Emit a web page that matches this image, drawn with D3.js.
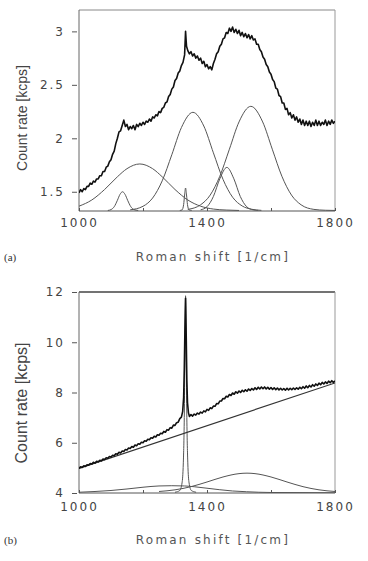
<!DOCTYPE html>
<html>
<head>
<meta charset="utf-8">
<script src="https://cdn.jsdelivr.net/npm/d3@7"></script>
<style>
  body { margin: 0; background: #fff; }
  svg { display: block; }
  .tick text { font-family: "DejaVu Sans", sans-serif; font-size: 12px; fill: #444; letter-spacing: 2px; }
</style>
</head>
<body>
<svg id="fig" width="368" height="561"></svg>
<script>
// ---- data ----
// panel (a): measured spectrum [Raman shift, kcps]
var specA = [[1000,1.49],[1005,1.52],[1010,1.50],[1015,1.53],[1020,1.52],[1025,1.55],[1030,1.55],[1035,1.58],[1040,1.57],[1045,1.60],[1050,1.59],[1055,1.62],[1060,1.62],[1065,1.65],[1070,1.65],[1075,1.69],[1080,1.69],[1085,1.73],[1090,1.74],[1095,1.78],[1100,1.80],[1105,1.85],[1110,1.88],[1115,1.95],[1120,2.00],[1125,2.06],[1130,2.07],[1135,2.12],[1140,2.17],[1145,2.11],[1150,2.13],[1155,2.08],[1160,2.11],[1165,2.09],[1170,2.12],[1175,2.08],[1180,2.13],[1185,2.11],[1190,2.14],[1195,2.12],[1200,2.15],[1205,2.13],[1210,2.16],[1215,2.15],[1220,2.18],[1225,2.16],[1230,2.20],[1235,2.19],[1240,2.22],[1245,2.21],[1250,2.25],[1255,2.24],[1260,2.28],[1265,2.29],[1270,2.33],[1275,2.34],[1280,2.39],[1285,2.41],[1290,2.46],[1295,2.48],[1300,2.54],[1305,2.56],[1310,2.61],[1315,2.63],[1320,2.68],[1325,2.71],[1330,2.78],[1333,3.00],[1336,2.86],[1340,2.82],[1345,2.79],[1350,2.81],[1355,2.77],[1360,2.79],[1365,2.75],[1370,2.77],[1375,2.73],[1380,2.75],[1385,2.70],[1390,2.72],[1395,2.67],[1400,2.69],[1405,2.65],[1410,2.67],[1415,2.64],[1420,2.70],[1425,2.74],[1430,2.79],[1435,2.81],[1440,2.86],[1445,2.88],[1450,2.93],[1455,2.94],[1460,2.99],[1465,2.98],[1470,3.03],[1475,3.00],[1480,3.04],[1485,2.99],[1490,3.02],[1495,2.98],[1500,3.01],[1505,2.96],[1510,2.99],[1515,2.95],[1520,2.98],[1525,2.94],[1530,2.97],[1535,2.93],[1540,2.96],[1545,2.92],[1550,2.93],[1555,2.88],[1560,2.88],[1565,2.83],[1570,2.81],[1575,2.76],[1580,2.74],[1585,2.69],[1590,2.67],[1595,2.62],[1600,2.60],[1605,2.55],[1610,2.53],[1615,2.47],[1620,2.46],[1625,2.40],[1630,2.39],[1635,2.33],[1640,2.33],[1645,2.27],[1650,2.28],[1655,2.22],[1660,2.24],[1665,2.19],[1670,2.22],[1675,2.17],[1680,2.20],[1685,2.15],[1690,2.18],[1695,2.13],[1700,2.17],[1705,2.12],[1710,2.16],[1715,2.12],[1720,2.16],[1725,2.11],[1730,2.15],[1735,2.12],[1740,2.17],[1745,2.12],[1750,2.16],[1755,2.12],[1760,2.15],[1765,2.13],[1770,2.17],[1775,2.12],[1780,2.16],[1785,2.13],[1790,2.17],[1795,2.14],[1800,2.16]];

// panel (a): fitted bands
var bandA1 = [[1000,1.365],[1040,1.423],[1080,1.521],[1120,1.640],[1150,1.716],[1190,1.76],[1230,1.716],[1260,1.640],[1300,1.521],[1340,1.423],[1380,1.365],[1420,1.338],[1460,1.329],[1500,1.325]];
var bandA2 = [[1090,1.325],[1100,1.333],[1110,1.36],[1120,1.42],[1128,1.475],[1136,1.50],[1144,1.475],[1152,1.42],[1162,1.36],[1172,1.333],[1185,1.325]];
var bandA3 = [[1315,1.325],[1322,1.33],[1327,1.38],[1330,1.47],[1333,1.535],[1336,1.47],[1339,1.38],[1344,1.33],[1352,1.325]];
var bandA4 = [[1160,1.331],[1200,1.364],[1230,1.441],[1260,1.602],[1290,1.846],[1320,2.100],[1356,2.243],[1390,2.115],[1420,1.864],[1450,1.616],[1480,1.449],[1510,1.367],[1540,1.336],[1570,1.326]];
var bandA5 = [[1380,1.331],[1400,1.360],[1420,1.456],[1440,1.621],[1462,1.728],[1484,1.621],[1504,1.456],[1524,1.360],[1544,1.331],[1560,1.326]];
var bandA6 = [[1340,1.335],[1380,1.378],[1410,1.469],[1440,1.645],[1470,1.898],[1500,2.153],[1537,2.299],[1574,2.153],[1604,1.898],[1634,1.645],[1664,1.469],[1694,1.378],[1734,1.335],[1770,1.327],[1800,1.325]];

// panel (b): measured spectrum
var specB = [[1000,4.98],[1005,5.04],[1010,5.02],[1015,5.08],[1020,5.06],[1025,5.12],[1030,5.11],[1035,5.17],[1040,5.15],[1045,5.22],[1050,5.19],[1055,5.26],[1060,5.24],[1065,5.30],[1070,5.28],[1075,5.35],[1080,5.33],[1085,5.40],[1090,5.38],[1095,5.45],[1100,5.43],[1105,5.50],[1110,5.48],[1115,5.56],[1120,5.54],[1125,5.62],[1130,5.59],[1135,5.67],[1140,5.65],[1145,5.73],[1150,5.71],[1155,5.79],[1160,5.77],[1165,5.85],[1170,5.82],[1175,5.91],[1180,5.88],[1185,5.96],[1190,5.94],[1195,6.02],[1200,6.00],[1205,6.08],[1210,6.06],[1215,6.14],[1220,6.12],[1225,6.20],[1230,6.18],[1235,6.26],[1240,6.23],[1245,6.32],[1250,6.30],[1255,6.38],[1260,6.36],[1265,6.45],[1270,6.42],[1275,6.52],[1280,6.50],[1285,6.60],[1290,6.58],[1295,6.70],[1300,6.69],[1305,6.80],[1310,6.82],[1315,6.96],[1320,7.02],[1324,7.25],[1327,7.8],[1329,8.9],[1331,10.5],[1333,11.75],[1335,10.3],[1337,8.5],[1339,7.6],[1342,7.2],[1345,7.05],[1350,7.12],[1355,7.06],[1360,7.14],[1365,7.10],[1370,7.18],[1375,7.14],[1380,7.22],[1385,7.18],[1390,7.27],[1395,7.23],[1400,7.33],[1405,7.29],[1410,7.39],[1415,7.36],[1420,7.46],[1425,7.45],[1430,7.56],[1435,7.55],[1440,7.66],[1445,7.66],[1450,7.76],[1455,7.75],[1460,7.85],[1465,7.82],[1470,7.92],[1475,7.88],[1480,7.98],[1485,7.93],[1490,8.03],[1495,7.97],[1500,8.06],[1505,8.00],[1510,8.09],[1515,8.03],[1520,8.11],[1525,8.05],[1530,8.14],[1535,8.08],[1540,8.16],[1545,8.10],[1550,8.19],[1555,8.12],[1560,8.21],[1565,8.14],[1570,8.22],[1575,8.15],[1580,8.22],[1585,8.14],[1590,8.21],[1595,8.13],[1600,8.20],[1605,8.12],[1610,8.19],[1615,8.11],[1620,8.18],[1625,8.10],[1630,8.17],[1635,8.10],[1640,8.16],[1645,8.09],[1650,8.17],[1655,8.10],[1660,8.17],[1665,8.11],[1670,8.18],[1675,8.12],[1680,8.19],[1685,8.13],[1690,8.21],[1695,8.15],[1700,8.23],[1705,8.17],[1710,8.26],[1715,8.19],[1720,8.28],[1725,8.22],[1730,8.31],[1735,8.25],[1740,8.34],[1745,8.28],[1750,8.37],[1755,8.31],[1760,8.40],[1765,8.34],[1770,8.42],[1775,8.36],[1780,8.45],[1785,8.39],[1790,8.47],[1795,8.40],[1800,8.46]];

// panel (b): linear background and bands
var lineB = [[1000,4.98],[1800,8.38]];
var bandB1 = [[1000,4.03],[1050,4.06],[1100,4.10],[1150,4.16],[1200,4.23],[1250,4.28],[1290,4.29],[1330,4.28],[1360,4.25],[1400,4.19],[1440,4.13],[1480,4.08],[1524,4.05],[1600,4.02],[1700,4.015],[1800,4.01]];
var bandB2 = [[1250,4.06],[1300,4.126],[1350,4.252],[1400,4.438],[1450,4.638],[1500,4.771],[1525,4.79],[1550,4.771],[1600,4.638],[1650,4.438],[1700,4.252],[1750,4.126],[1800,4.06]];
var bandB3 = [[1300,4.03],[1315,4.1],[1322,4.4],[1326,5.2],[1329,7.0],[1331,9.5],[1333,11.85],[1335,9.5],[1337,7.0],[1340,5.2],[1344,4.4],[1351,4.1],[1366,4.03]];

var xTicks = [1000, 1200, 1400, 1600, 1800];
var yTicksA = [1.5, 2, 2.5, 3];
var yTicksB = [4, 6, 8, 10, 12];

// ---- drawing ----
var svg = d3.select("#fig");
var left = 79, right = 335;

function panel(opt) {
  var x = d3.scaleLinear().domain([1000, 1800]).range([left, right]);
  var y = d3.scaleLinear().domain(opt.yDomain).range([opt.bottom, opt.top]);
  var g = svg.append("g");

  g.append("clipPath").attr("id", opt.id + "clip")
    .append("rect").attr("x", left).attr("y", opt.top - 2)
    .attr("width", right - left).attr("height", opt.bottom - opt.top + 2);

  // frame
  g.append("line").attr("x1", left).attr("x2", right).attr("y1", opt.top).attr("y2", opt.top)
    .attr("stroke", opt.topColor).attr("stroke-width", opt.topWidth);
  g.append("line").attr("x1", right).attr("x2", right).attr("y1", opt.top).attr("y2", opt.bottom)
    .attr("stroke", "#999").attr("stroke-width", 1);
  g.append("line").attr("x1", left).attr("x2", left).attr("y1", opt.top).attr("y2", opt.bottom)
    .attr("stroke", "#666").attr("stroke-width", 1);
  g.append("line").attr("x1", left).attr("x2", right).attr("y1", opt.bottom).attr("y2", opt.bottom)
    .attr("stroke", "#555").attr("stroke-width", 1);

  // axes
  var ya = g.append("g").attr("transform", "translate(" + (left - 2) + ",0)")
    .call(d3.axisLeft(y).tickValues(opt.yTicks).tickSize(5).tickPadding(7)
      .tickFormat(function(d) { return String(d); }));
  ya.select(".domain").remove();
  ya.selectAll(".tick line").attr("stroke", "#555");

  var xa = g.append("g").attr("transform", "translate(0," + opt.bottom + ")")
    .call(d3.axisBottom(x).tickValues(xTicks).tickSizeInner(-3).tickSizeOuter(0).tickPadding(opt.xPad)
      .tickFormat(function(d) { return (d - 1000) % 400 === 0 ? String(d) : ""; }));
  xa.select(".domain").remove();
  xa.selectAll(".tick line").attr("stroke", "#555");

  var line = d3.line().x(function(d) { return x(d[0]); }).y(function(d) { return y(d[1]); });
  var smooth = d3.line().x(function(d) { return x(d[0]); }).y(function(d) { return y(d[1]); })
    .curve(d3.curveMonotoneX);

  var plot = g.append("g").attr("clip-path", "url(#" + opt.id + "clip)");
  opt.bands.forEach(function(b) {
    plot.append("path").attr("d", smooth(b)).attr("fill", "none")
      .attr("stroke", "#555").attr("stroke-width", 1);
  });
  if (opt.background) {
    plot.append("path").attr("d", line(opt.background)).attr("fill", "none")
      .attr("stroke", "#333").attr("stroke-width", 1.2);
  }
  plot.append("path").attr("d", line(opt.spec)).attr("fill", "none")
    .attr("stroke", "#111").attr("stroke-width", 1.6).attr("stroke-linejoin", "round");

  // titles
  svg.append("text").attr("transform", "translate(" + opt.yTitleX + "," + opt.yTitleY + ") rotate(-90)")
    .attr("text-anchor", "middle").attr("font-family", "Liberation Sans, Arial, sans-serif")
    .attr("font-size", opt.yTitleSize).attr("fill", "#444").text("Count rate [kcps]");
  svg.append("text").attr("x", 213).attr("y", opt.xTitleY).attr("text-anchor", "middle")
    .attr("font-family", "DejaVu Sans, sans-serif").attr("font-size", 12).attr("letter-spacing", 2.2)
    .attr("fill", "#555").text("Roman shift [1/cm]");
  svg.append("text").attr("x", 4).attr("y", opt.xTitleY).attr("font-family", "Liberation Serif, serif")
    .attr("font-size", 11).attr("fill", "#333").text(opt.tag);
}

panel({
  id: "a", top: 10, bottom: 211, yDomain: [1.32, 3.2], yTicks: yTicksA,
  topColor: "#888", topWidth: 1, xPad: 7,
  spec: specA, bands: [bandA1, bandA2, bandA3, bandA4, bandA5, bandA6],
  yTitleX: 27, yTitleY: 118, yTitleSize: 14, xTitleY: 261, tag: "(a)"
});

panel({
  id: "b", top: 292, bottom: 493, yDomain: [4, 12], yTicks: yTicksB,
  topColor: "#444", topWidth: 1.5, xPad: 9,
  spec: specB, background: lineB, bands: [bandB1, bandB2, bandB3],
  yTitleX: 27, yTitleY: 403, yTitleSize: 16, xTitleY: 544, tag: "(b)"
});
</script>
</body>
</html>
